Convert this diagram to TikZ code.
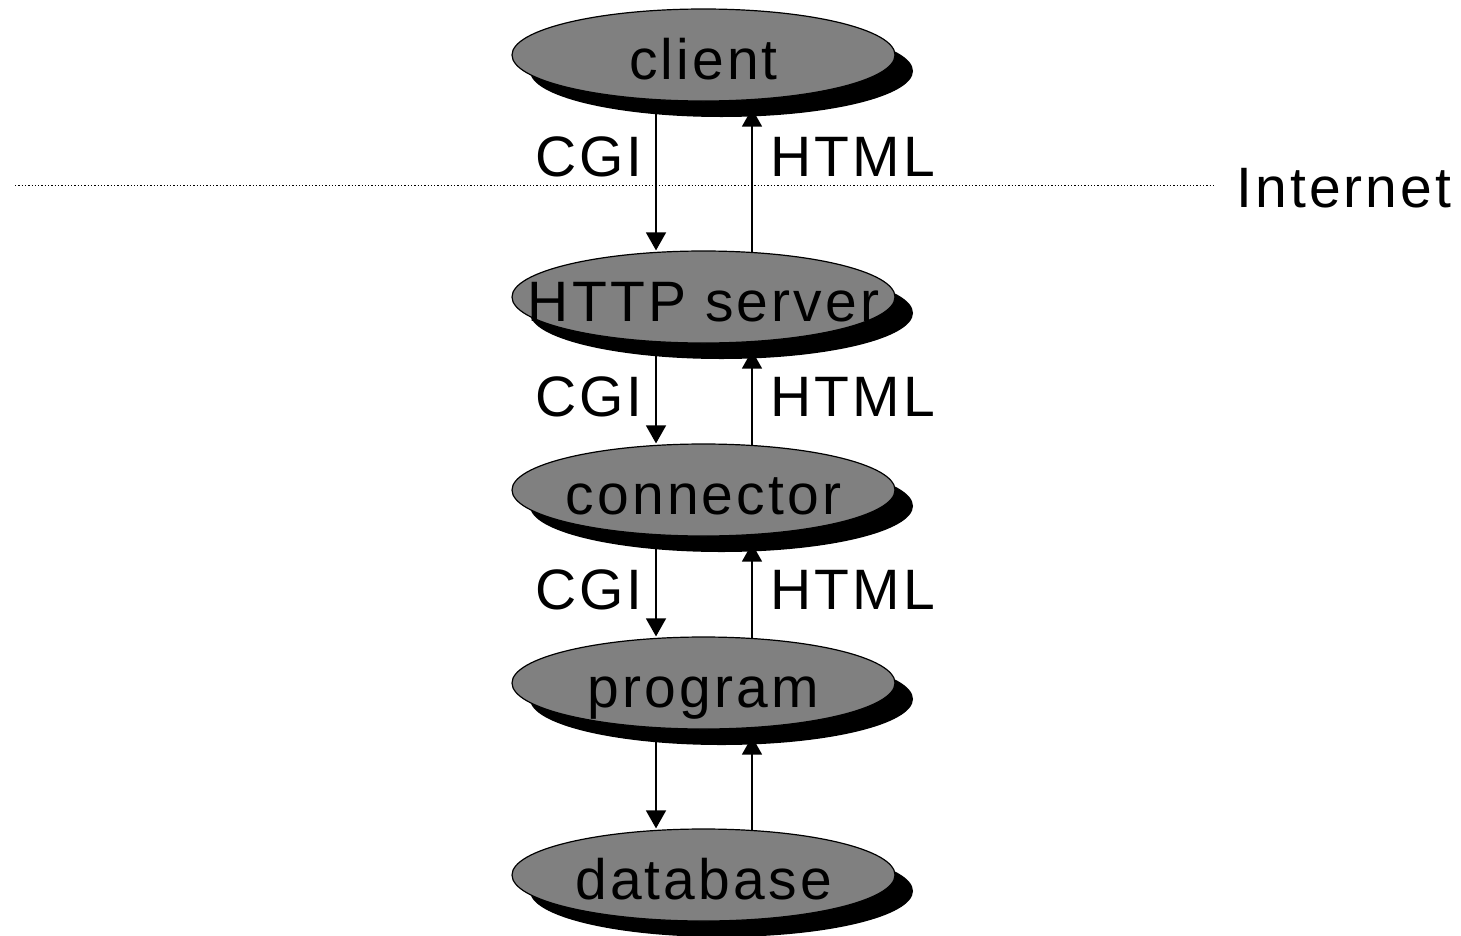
\documentclass[tikz,border=0pt]{standalone}
\usepackage{fontspec}
\setmainfont{Liberation Sans}[LetterSpace=5.5]
\usetikzlibrary{shapes.geometric,shadows,arrows.meta,backgrounds,calc}

% tier caption: fixed-size box so every ellipse keeps the same size
\newcommand\tiertext[1]{\raisebox{-24pt}[0pt][0pt]{\makebox[0pt]{#1}}}

\tikzset{
  tier/.style={ellipse, draw=black, line width=1.2pt, fill=black!50,
    minimum width=383pt, minimum height=92pt, inner sep=0pt,
    font=\fontsize{57}{60}\selectfont,
    drop shadow={shadow xshift=18pt, shadow yshift=-16pt, fill=black, opacity=1}},
  flow/.style={line width=1.5pt, -{Triangle[width=20pt,length=18pt]}},
  proto/.style={font=\fontsize{57}{60}\selectfont, inner sep=0pt},
  divider/.style={line width=1pt, dash pattern=on 1.3pt off 2pt}
}

\begin{document}
\begin{tikzpicture}[x=1pt,y=-1pt]
\useasboundingbox (0,0) rectangle (1461,935);

% stack of tiers
\node[tier] (client) at (703.5,55) {\tiertext{client}};
\node[tier] (http) at (703.5,297) {\tiertext{HTTP server}};
\node[tier] (conn) at (703.5,490) {\tiertext{connector}};
\node[tier] (prog) at (703.5,683) {\tiertext{program}};
\node[tier] (db) at (703.5,875) {\tiertext{database}};

% the two vertical lanes
\coordinate (dn) at (656,0);
\coordinate (up) at (752,0);

% requests go down, responses come back up (drawn behind the tiers)
\begin{scope}[on background layer]
\foreach \a/\b in {client/http, http/conn, conn/prog, prog/db}{
  \draw[flow] (\a.center -| dn) -- (\b.north -| dn);
  \draw[flow, shorten >=7pt] (\b.center -| up) -- (\a.south -| up);
}
\end{scope}

% protocol labels
\node[proto, anchor=east] (cgi1) at (643,157) {CGI};
\node[proto, anchor=west] (html1) at (770,157) {HTML};
\node[proto, anchor=east] (cgi2) at (643,397) {CGI};
\node[proto, anchor=west] (html2) at (770,397) {HTML};
\node[proto, anchor=east] (cgi3) at (643,590) {CGI};
\node[proto, anchor=west] (html3) at (770,590) {HTML};

% internet boundary
\coordinate (lineL) at (15,185);
\coordinate (lineR) at (1213,185);
\draw[divider] (lineL) -- (lineR);
\node[proto, anchor=west] (inet) at (1236,188) {Internet};
\end{tikzpicture}
\end{document}
